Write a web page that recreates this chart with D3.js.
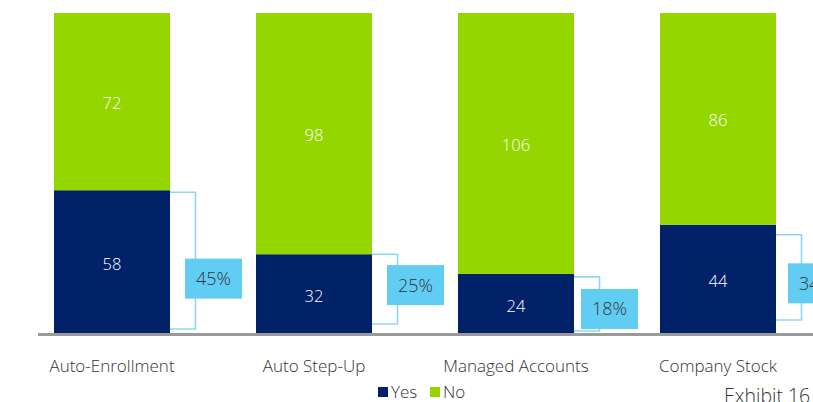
<!DOCTYPE html>
<html>
<head>
<meta charset="utf-8">
<script src="https://cdn.jsdelivr.net/npm/d3@7"></script>
<style>
  body { margin: 0; background: #fff; }
  text { font-family: "Open Sans", "Noto Sans", sans-serif; font-weight: 300; }
</style>
</head>
<body>
<div id="chart"></div>
<script>
// data
var categories = ["Auto-Enrollment", "Auto Step-Up", "Managed Accounts", "Company Stock"];
var yesValues = [58, 32, 24, 44];
var noValues = [72, 98, 106, 86];
var pctLabels = ["45%", "25%", "18%", "34%"];

var width = 813, height = 402;
var baseY = 333, topY = 13;

var svg = d3.select("#chart")
    .append("svg")
        .attr("width", width)
        .attr("height", height);

// x scale
var x = d3.scaleBand()
    .domain(categories)
    .range([11, 819])
    .paddingInner(0.4257)
    .paddingOuter(0.2129);

// y scale
var y = d3.scaleLinear()
    .domain([0, 130])
    .range([baseY, topY]);

var navy = "#012169", green = "#95D600", lightBlue = "#62CDF3", bracketCol = "#8ED7F4";

var rows = categories.map(function(c, i) {
    return {cat: c, yes: yesValues[i], no: noValues[i], pct: pctLabels[i], i: i};
});

// yes bars
svg.append("g").selectAll("rect")
    .data(rows)
    .enter()
    .append("rect")
        .attr("x", function(d) { return x(d.cat); })
        .attr("y", function(d) { return y(d.yes); })
        .attr("width", x.bandwidth())
        .attr("height", function(d) { return y(0) - y(d.yes); })
        .style("fill", navy);

// no bars
svg.append("g").selectAll("rect")
    .data(rows)
    .enter()
    .append("rect")
        .attr("x", function(d) { return x(d.cat); })
        .attr("y", function(d) { return y(d.yes + d.no); })
        .attr("width", x.bandwidth())
        .attr("height", function(d) { return y(d.yes) - y(d.yes + d.no); })
        .style("fill", green);

// value labels
svg.append("g").selectAll("text")
    .data(rows)
    .enter()
    .append("text")
        .text(function(d) { return d.yes; })
        .attr("x", function(d) { return x(d.cat) + x.bandwidth() / 2; })
        .attr("y", function(d) { return y(d.yes / 2); })
        .attr("dy", "0.5em")
        .attr("text-anchor", "middle")
        .style("font-size", "16.5px")
        .style("fill", "#fff");

svg.append("g").selectAll("text")
    .data(rows)
    .enter()
    .append("text")
        .text(function(d) { return d.no; })
        .attr("x", function(d) { return x(d.cat) + x.bandwidth() / 2; })
        .attr("y", function(d) { return y(d.yes + d.no / 2); })
        .attr("dy", "0.45em")
        .attr("text-anchor", "middle")
        .style("font-size", "16.5px")
        .style("fill", "#fff");

// baseline
svg.append("line")
    .attr("x1", 38).attr("x2", width)
    .attr("y1", baseY + 1.5).attr("y2", baseY + 1.5)
    .style("stroke", "#9a9a9a")
    .style("stroke-width", 3);

// brackets + percentage boxes
var topOff = [2, 0, 3, 10], botOff = [4, 9, 2, 13], boxShift = [18, -4, 5, 6], boxLeft = [15, 15, 7, 12];
var br = svg.append("g");
rows.forEach(function(d, i) {
    var xr = x(d.cat) + x.bandwidth();
    var yt = y(d.yes) + topOff[i], yb = y(0) - botOff[i];
    br.append("path")
        .attr("d", "M" + xr + "," + yt + "H" + (xr + 25.5) + "V" + yb + "H" + xr)
        .style("fill", "none")
        .style("stroke", bracketCol)
        .style("stroke-width", 1.6);
    var cy = (yt + yb) / 2 + boxShift[i];
    br.append("rect")
        .attr("x", xr + boxLeft[i])
        .attr("y", cy - 20)
        .attr("width", 57)
        .attr("height", 40)
        .style("fill", lightBlue);
    br.append("text")
        .text(d.pct)
        .attr("x", xr + boxLeft[i] + 28.5)
        .attr("y", cy)
        .attr("dy", "0.36em")
        .attr("text-anchor", "middle")
        .style("font-size", "18px")
        .style("fill", "#333");
});

// category labels
svg.append("g").selectAll("text")
    .data(rows)
    .enter()
    .append("text")
        .text(function(d) { return d.cat; })
        .attr("x", function(d) { return x(d.cat) + x.bandwidth() / 2; })
        .attr("y", 372)
        .attr("text-anchor", "middle")
        .style("font-size", "17px")
        .style("fill", "#333");

// legend
var legend = [["Yes", navy, 378], ["No", green, 430]];
legend.forEach(function(l) {
    svg.append("rect").attr("x", l[2]).attr("y", 387).attr("width", 10).attr("height", 10).style("fill", l[1]);
    svg.append("text").text(l[0]).attr("x", l[2] + 13).attr("y", 398)
        .style("font-size", "17px").style("fill", "#333");
});

svg.append("text")
    .text("Exhibit 16")
    .attr("x", 724)
    .attr("y", 403)
    .style("font-size", "19.5px")
    .style("fill", "#333");
</script>
</body>
</html>
